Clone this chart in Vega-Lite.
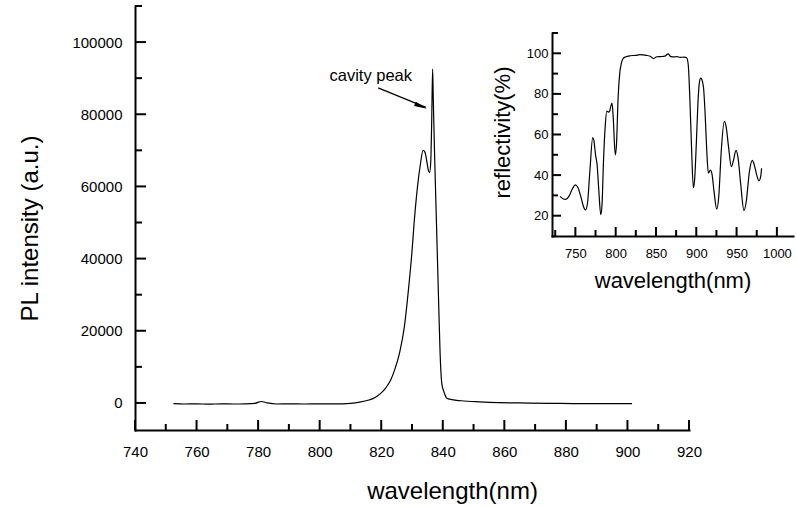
{
  "$schema": "https://vega.github.io/schema/vega-lite/v6.json",
  "width": 554,
  "height": 424,
  "autosize": {"type": "none"},
  "padding": {"left": 135, "top": 6, "right": 107, "bottom": 77},
  "background": "white",
  "config": {
    "view": {"stroke": null},
    "font": "Liberation Sans",
    "axis": {
      "grid": false,
      "ticks": false,
      "domainColor": "black",
      "domainWidth": 2,
      "domainCap": "square",
      "labelColor": "black",
      "titleColor": "black",
      "labelFont": "Liberation Sans",
      "titleFont": "Liberation Sans",
      "titleFontWeight": "normal",
      "labelFlush": false,
      "labelOverlap": false
    }
  },
  "datasets": {
    "pl": [
      {"wavelength": 752.5, "intensity": -200},
      {"wavelength": 756, "intensity": -300},
      {"wavelength": 760, "intensity": -250},
      {"wavelength": 764, "intensity": -350},
      {"wavelength": 768, "intensity": -250},
      {"wavelength": 772, "intensity": -300},
      {"wavelength": 776, "intensity": -250},
      {"wavelength": 779, "intensity": -100},
      {"wavelength": 781, "intensity": 400},
      {"wavelength": 783, "intensity": 0},
      {"wavelength": 786, "intensity": -300},
      {"wavelength": 790, "intensity": -250},
      {"wavelength": 795, "intensity": -300},
      {"wavelength": 800, "intensity": -250},
      {"wavelength": 805, "intensity": -250},
      {"wavelength": 810, "intensity": -100},
      {"wavelength": 813, "intensity": 200},
      {"wavelength": 816, "intensity": 800},
      {"wavelength": 818, "intensity": 1500},
      {"wavelength": 820, "intensity": 2800},
      {"wavelength": 821.5, "intensity": 4200},
      {"wavelength": 823, "intensity": 6200},
      {"wavelength": 824.5, "intensity": 9500},
      {"wavelength": 826, "intensity": 14000},
      {"wavelength": 827.5, "intensity": 21000},
      {"wavelength": 828.8, "intensity": 31000},
      {"wavelength": 830, "intensity": 42000},
      {"wavelength": 830.7, "intensity": 50000},
      {"wavelength": 831.8, "intensity": 60000},
      {"wavelength": 832.7, "intensity": 66000},
      {"wavelength": 833.6, "intensity": 70000},
      {"wavelength": 834.2, "intensity": 69500},
      {"wavelength": 834.8, "intensity": 67000},
      {"wavelength": 835.3, "intensity": 64500},
      {"wavelength": 835.7, "intensity": 63800},
      {"wavelength": 836.1, "intensity": 67000},
      {"wavelength": 836.4, "intensity": 78000},
      {"wavelength": 836.7, "intensity": 92500},
      {"wavelength": 836.9, "intensity": 85000},
      {"wavelength": 837.3, "intensity": 70000},
      {"wavelength": 837.75, "intensity": 56000},
      {"wavelength": 838.2, "intensity": 42000},
      {"wavelength": 838.65, "intensity": 28000},
      {"wavelength": 839.1, "intensity": 14500},
      {"wavelength": 839.7, "intensity": 5300},
      {"wavelength": 840.5, "intensity": 2800},
      {"wavelength": 841.2, "intensity": 1400},
      {"wavelength": 843, "intensity": 900},
      {"wavelength": 846, "intensity": 600},
      {"wavelength": 852, "intensity": 300},
      {"wavelength": 858, "intensity": 100},
      {"wavelength": 865, "intensity": 0},
      {"wavelength": 875, "intensity": -100},
      {"wavelength": 885, "intensity": -200},
      {"wavelength": 895, "intensity": -200},
      {"wavelength": 901.5, "intensity": -200}
    ],
    "refl": [
      {"wl": 731, "R": 29.5}, {"wl": 734, "R": 28.5}, {"wl": 738, "R": 28},
      {"wl": 742, "R": 29.5}, {"wl": 746, "R": 33}, {"wl": 750, "R": 35.2},
      {"wl": 753, "R": 34}, {"wl": 757, "R": 29}, {"wl": 760, "R": 24.5},
      {"wl": 762.5, "R": 22.8}, {"wl": 765, "R": 26}, {"wl": 768, "R": 42},
      {"wl": 771.5, "R": 58.5}, {"wl": 773, "R": 57}, {"wl": 775, "R": 50},
      {"wl": 777, "R": 45}, {"wl": 779, "R": 33}, {"wl": 781.5, "R": 20.5},
      {"wl": 783, "R": 25}, {"wl": 785, "R": 48}, {"wl": 787, "R": 64},
      {"wl": 789, "R": 71.5}, {"wl": 791, "R": 71}, {"wl": 792.5, "R": 71.5},
      {"wl": 794, "R": 74}, {"wl": 795.5, "R": 75.5}, {"wl": 797, "R": 68},
      {"wl": 799.5, "R": 50}, {"wl": 801, "R": 55}, {"wl": 803, "R": 78},
      {"wl": 805, "R": 90}, {"wl": 807, "R": 95}, {"wl": 809, "R": 97.3},
      {"wl": 812, "R": 98.2}, {"wl": 818, "R": 98.8}, {"wl": 825, "R": 99},
      {"wl": 830, "R": 99.3}, {"wl": 838, "R": 99}, {"wl": 843, "R": 98.5},
      {"wl": 847, "R": 97.4}, {"wl": 851, "R": 98.3}, {"wl": 856, "R": 98.4},
      {"wl": 861, "R": 98.6}, {"wl": 865, "R": 99.7}, {"wl": 868, "R": 98.5},
      {"wl": 872, "R": 98.2}, {"wl": 876, "R": 98.4}, {"wl": 880, "R": 98},
      {"wl": 885, "R": 98.1}, {"wl": 888, "R": 97.8}, {"wl": 890, "R": 94.5},
      {"wl": 892, "R": 78}, {"wl": 894, "R": 55}, {"wl": 896.4, "R": 33.8},
      {"wl": 898, "R": 38}, {"wl": 900, "R": 55}, {"wl": 902, "R": 75},
      {"wl": 904, "R": 86}, {"wl": 905.5, "R": 87.8}, {"wl": 907, "R": 87},
      {"wl": 909, "R": 83}, {"wl": 911, "R": 70}, {"wl": 913, "R": 52},
      {"wl": 915, "R": 41}, {"wl": 917.5, "R": 42.5}, {"wl": 919.5, "R": 40.5},
      {"wl": 922, "R": 32}, {"wl": 925.4, "R": 23.2}, {"wl": 928, "R": 30},
      {"wl": 931, "R": 52}, {"wl": 934.8, "R": 66.5}, {"wl": 937, "R": 64},
      {"wl": 940, "R": 54}, {"wl": 943.5, "R": 44.2}, {"wl": 946, "R": 47},
      {"wl": 949.3, "R": 52.2}, {"wl": 952, "R": 48}, {"wl": 955, "R": 36},
      {"wl": 959.2, "R": 22.5}, {"wl": 962, "R": 27}, {"wl": 966, "R": 42},
      {"wl": 969.5, "R": 47.3}, {"wl": 972, "R": 45}, {"wl": 975, "R": 40},
      {"wl": 977.7, "R": 37.2}, {"wl": 980, "R": 39.5}, {"wl": 981, "R": 43.4}
    ],
    "label": [
      {"wavelength": 830, "intensity": 89100, "text": "cavity peak"}
    ],
    "arrow": [
      {"wavelength": 819, "intensity": 87300, "wavelength2": 834.5, "intensity2": 81900, "hx": 832.9, "hy": 82200}
    ],
    "xticks": [
      {"wavelength": 740, "kind": "major"}, {"wavelength": 750, "kind": "minor"},
      {"wavelength": 760, "kind": "major"}, {"wavelength": 770, "kind": "minor"},
      {"wavelength": 780, "kind": "major"}, {"wavelength": 790, "kind": "minor"},
      {"wavelength": 800, "kind": "major"}, {"wavelength": 810, "kind": "minor"},
      {"wavelength": 820, "kind": "major"}, {"wavelength": 830, "kind": "minor"},
      {"wavelength": 840, "kind": "major"}, {"wavelength": 850, "kind": "minor"},
      {"wavelength": 860, "kind": "major"}, {"wavelength": 870, "kind": "minor"},
      {"wavelength": 880, "kind": "major"}, {"wavelength": 890, "kind": "minor"},
      {"wavelength": 900, "kind": "major"}, {"wavelength": 910, "kind": "minor"},
      {"wavelength": 920, "kind": "major"}
    ],
    "yticks": [
      {"intensity": 0, "kind": "major"}, {"intensity": 10000, "kind": "minor"},
      {"intensity": 20000, "kind": "major"}, {"intensity": 30000, "kind": "minor"},
      {"intensity": 40000, "kind": "major"}, {"intensity": 50000, "kind": "minor"},
      {"intensity": 60000, "kind": "major"}, {"intensity": 70000, "kind": "minor"},
      {"intensity": 80000, "kind": "major"}, {"intensity": 90000, "kind": "minor"},
      {"intensity": 100000, "kind": "major"}, {"intensity": 110000, "kind": "minor"}
    ],
    "ixticks": [
      {"wl": 725, "kind": "minor"}, {"wl": 750, "kind": "major"},
      {"wl": 775, "kind": "minor"}, {"wl": 800, "kind": "major"},
      {"wl": 825, "kind": "minor"}, {"wl": 850, "kind": "major"},
      {"wl": 875, "kind": "minor"}, {"wl": 900, "kind": "major"},
      {"wl": 925, "kind": "minor"}, {"wl": 950, "kind": "major"},
      {"wl": 975, "kind": "minor"}, {"wl": 1000, "kind": "major"}
    ],
    "iyticks": [
      {"R": 20, "kind": "major"}, {"R": 30, "kind": "minor"},
      {"R": 40, "kind": "major"}, {"R": 50, "kind": "minor"},
      {"R": 60, "kind": "major"}, {"R": 70, "kind": "minor"},
      {"R": 80, "kind": "major"}, {"R": 90, "kind": "minor"},
      {"R": 100, "kind": "major"}, {"R": 110, "kind": "minor"}
    ]
  },
  "layer": [
    {
      "layer": [
        {
          "data": {"name": "pl"},
          "mark": {"type": "line", "color": "black", "strokeWidth": 1.2, "interpolate": "monotone"},
          "encoding": {
            "x": {
              "field": "wavelength", "type": "quantitative",
              "scale": {"domain": [740, 920], "nice": false, "zero": false},
              "axis": {
                "title": "wavelength(nm)",
                "values": [740, 760, 780, 800, 820, 840, 860, 880, 900, 920],
                "labelPadding": 14,
                "labelFontSize": 15,
                "titleFontSize": 24,
                "titleX": 317,
                "titleY": 68,
                "titleBaseline": "alphabetic"
              }
            },
            "y": {
              "field": "intensity", "type": "quantitative",
              "scale": {"domain": [-7500, 110000], "nice": false, "zero": false},
              "axis": {
                "title": "PL intensity (a.u.)",
                "values": [0, 20000, 40000, 60000, 80000, 100000],
                "format": "d",
                "labelPadding": 13,
                "labelFontSize": 15,
                "titleFontSize": 24,
                "titleX": -105,
                "titleY": 222,
                "titleBaseline": "middle"
              }
            }
          }
        },
        {
          "data": {"name": "xticks"},
          "transform": [{"filter": "datum.kind === 'major'"}],
          "mark": {"type": "tick", "orient": "vertical", "color": "black", "opacity": 1, "thickness": 2, "yOffset": -5},
          "encoding": {
            "x": {"field": "wavelength", "type": "quantitative"},
            "y": {"datum": -7500},
            "size": {"value": 10}
          }
        },
        {
          "data": {"name": "xticks"},
          "transform": [{"filter": "datum.kind === 'minor'"}],
          "mark": {"type": "tick", "orient": "vertical", "color": "black", "opacity": 1, "thickness": 2, "yOffset": -3},
          "encoding": {
            "x": {"field": "wavelength", "type": "quantitative"},
            "y": {"datum": -7500},
            "size": {"value": 6}
          }
        },
        {
          "data": {"name": "yticks"},
          "transform": [{"filter": "datum.kind === 'major'"}],
          "mark": {"type": "tick", "orient": "horizontal", "color": "black", "opacity": 1, "thickness": 2, "xOffset": 5.5},
          "encoding": {
            "y": {"field": "intensity", "type": "quantitative"},
            "x": {"datum": 740},
            "size": {"value": 11}
          }
        },
        {
          "data": {"name": "yticks"},
          "transform": [{"filter": "datum.kind === 'minor'"}],
          "mark": {"type": "tick", "orient": "horizontal", "color": "black", "opacity": 1, "thickness": 2, "xOffset": 3.5},
          "encoding": {
            "y": {"field": "intensity", "type": "quantitative"},
            "x": {"datum": 740},
            "size": {"value": 7}
          }
        },
        {
          "data": {"name": "arrow"},
          "mark": {"type": "rule", "color": "black", "strokeWidth": 1.2},
          "encoding": {
            "x": {"field": "wavelength", "type": "quantitative"},
            "y": {"field": "intensity", "type": "quantitative"},
            "x2": {"field": "wavelength2"},
            "y2": {"field": "intensity2"}
          }
        },
        {
          "data": {"name": "arrow"},
          "mark": {"type": "point", "shape": "M-1,-0.35L1,0L-1,0.35Z", "filled": true, "color": "black", "opacity": 1, "size": 169, "angle": 22.5},
          "encoding": {
            "x": {"field": "hx", "type": "quantitative"},
            "y": {"field": "hy", "type": "quantitative"}
          }
        },
        {
          "data": {"name": "label"},
          "mark": {"type": "text", "align": "right", "baseline": "alphabetic", "fontSize": 16.5, "font": "Liberation Sans", "color": "black"},
          "encoding": {
            "x": {"field": "wavelength", "type": "quantitative"},
            "y": {"field": "intensity", "type": "quantitative"},
            "text": {"field": "text"}
          }
        }
      ]
    },
    {
      "layer": [
        {
          "data": {"name": "refl"},
          "mark": {"type": "line", "color": "black", "strokeWidth": 1.2, "interpolate": "monotone"},
          "encoding": {
            "x": {
              "field": "wl", "type": "quantitative",
              "scale": {"domain": [721, 1020], "range": [417, 658], "nice": false, "zero": false},
              "axis": {
                "orient": "bottom",
                "offset": -194,
                "title": "wavelength(nm)",
                "format": "d",
                "values": [750, 800, 850, 900, 950, 1000],
                "labelPadding": 11,
                "labelFontSize": 13,
                "titleFontSize": 22,
                "titleY": 51,
                "titleBaseline": "alphabetic"
              }
            },
            "y": {
              "field": "R", "type": "quantitative",
              "scale": {"domain": [10, 110], "range": [230, 27], "nice": false, "zero": false},
              "axis": {
                "orient": "left",
                "offset": -417,
                "title": "reflectivity(%)",
                "values": [20, 40, 60, 80, 100],
                "labelPadding": 4,
                "labelFontSize": 13,
                "titleFontSize": 22,
                "titleX": -50,
                "titleY": 126,
                "titleBaseline": "middle"
              }
            }
          }
        },
        {
          "data": {"name": "ixticks"},
          "transform": [{"filter": "datum.kind === 'major'"}],
          "mark": {"type": "tick", "orient": "vertical", "color": "black", "opacity": 1, "thickness": 2, "yOffset": -4.5},
          "encoding": {
            "x": {"field": "wl", "type": "quantitative"},
            "y": {"datum": 10},
            "size": {"value": 9}
          }
        },
        {
          "data": {"name": "ixticks"},
          "transform": [{"filter": "datum.kind === 'minor'"}],
          "mark": {"type": "tick", "orient": "vertical", "color": "black", "opacity": 1, "thickness": 2, "yOffset": -3},
          "encoding": {
            "x": {"field": "wl", "type": "quantitative"},
            "y": {"datum": 10},
            "size": {"value": 6}
          }
        },
        {
          "data": {"name": "iyticks"},
          "transform": [{"filter": "datum.kind === 'major'"}],
          "mark": {"type": "tick", "orient": "horizontal", "color": "black", "opacity": 1, "thickness": 2, "xOffset": 4.5},
          "encoding": {
            "y": {"field": "R", "type": "quantitative"},
            "x": {"datum": 721},
            "size": {"value": 9}
          }
        },
        {
          "data": {"name": "iyticks"},
          "transform": [{"filter": "datum.kind === 'minor'"}],
          "mark": {"type": "tick", "orient": "horizontal", "color": "black", "opacity": 1, "thickness": 2, "xOffset": 3},
          "encoding": {
            "y": {"field": "R", "type": "quantitative"},
            "x": {"datum": 721},
            "size": {"value": 6}
          }
        }
      ]
    }
  ],
  "resolve": {"scale": {"x": "independent", "y": "independent"}}
}
